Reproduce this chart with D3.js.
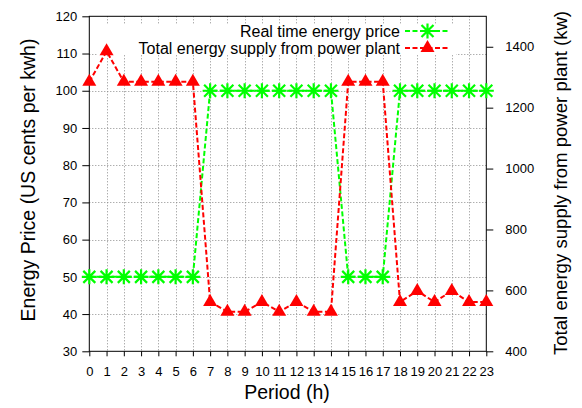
<!DOCTYPE html>
<html>
<head>
<meta charset="utf-8">
<script src="https://cdnjs.cloudflare.com/ajax/libs/d3/7.8.5/d3.min.js"></script>
<style>
  body { margin: 0; background: #fff; }
  svg { display: block; font-family: "Liberation Sans", Arial, sans-serif; }
</style>
</head>
<body>
<div id="chart"></div>
<script>
// chart data
const periods = [0, 1, 2, 3, 4, 5, 6, 7, 8, 9, 10, 11, 12, 13, 14, 15, 16, 17, 18, 19, 20, 21, 22, 23];
const price = [50, 50, 50, 50, 50, 50, 50, 100, 100, 100, 100, 100, 100, 100, 100, 50, 50, 50, 100, 100, 100, 100, 100, 100];
const supply = [1285, 1385, 1285, 1285, 1285, 1285, 1285, 562, 530, 530, 562, 530, 562, 530, 530, 1285, 1285, 1285, 562, 598, 562, 598, 562, 562];
const priceTicks = [30, 40, 50, 60, 70, 80, 90, 100, 110, 120];
const supplyTicks = [400, 600, 800, 1000, 1200, 1400];
const seriesNames = ['Real time energy price', 'Total energy supply from power plant'];

const width = 582, height = 408;
const m = {left: 89.3, right: 486.3, top: 16.3, bottom: 351.3};

const svg = d3.select('#chart').append('svg')
    .attr('width', width)
    .attr('height', height);

const x = d3.scaleLinear().domain([0, 23]).range([m.left, m.right]);
const yL = d3.scaleLinear().domain([30, 120]).range([m.bottom, m.top]);
const yR = d3.scaleLinear().domain([400, 1500]).range([m.bottom, m.top]);

const GREEN = '#00ff00', RED = '#ff0000';

// grid
const grid = svg.append('g')
    .attr('stroke', '#8c8c8c')
    .attr('stroke-width', 1)
    .attr('stroke-dasharray', '1,2');
grid.selectAll('line.v').data(periods.slice(1, -1)).enter().append('line')
    .attr('x1', d => Math.round(x(d)) + 0.5).attr('x2', d => Math.round(x(d)) + 0.5)
    .attr('y1', m.top).attr('y2', m.bottom);
grid.selectAll('line.h').data(priceTicks.slice(1, -1)).enter().append('line')
    .attr('x1', m.left).attr('x2', m.right)
    .attr('y1', d => Math.round(yL(d)) + 0.5).attr('y2', d => Math.round(yL(d)) + 0.5);

// opaque key box
svg.append('rect')
    .attr('x', 97).attr('y', 24)
    .attr('width', 359).attr('height', 31)
    .attr('fill', '#fff');

// axes
const axisFont = g => g.selectAll('text')
    .attr('font-size', '13px')
    .attr('font-family', '"Liberation Sans", Arial, sans-serif')
    .attr('fill', '#000');

svg.append('g')
    .attr('transform', `translate(0,${m.bottom})`)
    .call(d3.axisBottom(x).tickValues(periods).tickSize(5).tickPadding(10))
    .call(g => g.select('.domain').remove())
    .call(axisFont);

svg.append('g')
    .attr('transform', `translate(${m.left},0)`)
    .call(d3.axisLeft(yL).tickValues(priceTicks).tickSize(7).tickPadding(5))
    .call(g => g.select('.domain').remove())
    .call(axisFont);

svg.append('g')
    .attr('transform', `translate(${m.right},0)`)
    .call(d3.axisRight(yR).tickValues(supplyTicks).tickFormat(d3.format('d')).tickSize(7).tickPadding(12))
    .call(g => g.select('.domain').remove())
    .call(axisFont);

// border
svg.append('rect')
    .attr('x', m.left).attr('y', m.top)
    .attr('width', m.right - m.left).attr('height', m.bottom - m.top)
    .attr('fill', 'none').attr('stroke', '#000').attr('stroke-width', 1);

// markers
function star(sel, cx, cy) {
    const s = 7.5, d = 6;
    sel.append('path')
        .attr('d', `M${cx - s},${cy}H${cx + s}M${cx},${cy - s}V${cy + s}` +
            `M${cx - d},${cy - d}L${cx + d},${cy + d}M${cx - d},${cy + d}L${cx + d},${cy - d}`)
        .attr('stroke', GREEN).attr('stroke-width', 2.2).attr('fill', 'none');
}
function tri(sel, cx, cy) {
    sel.append('path')
        .attr('d', `M${cx},${cy - 8}L${cx - 7},${cy + 4}L${cx + 7},${cy + 4}Z`)
        .attr('fill', RED);
}

// price series
svg.append('path')
    .datum(periods)
    .attr('fill', 'none')
    .attr('stroke', GREEN).attr('stroke-width', 2)
    .attr('stroke-dasharray', '5,2.5')
    .attr('d', d3.line().x(d => x(d)).y((d, i) => yL(price[i])));
const gP = svg.append('g');
periods.forEach((p, i) => star(gP, x(p), yL(price[i])));

// supply series
svg.append('path')
    .datum(periods)
    .attr('fill', 'none')
    .attr('stroke', RED).attr('stroke-width', 2)
    .attr('stroke-dasharray', '5,2.5')
    .attr('d', d3.line().x(d => x(d)).y((d, i) => yR(supply[i])));
const gS = svg.append('g');
periods.forEach((p, i) => tri(gS, x(p), yR(supply[i])));

// legend
const leg = svg.append('g');
seriesNames.forEach((name, i) => {
    const cy = 31 + i * 17;
    leg.append('text')
        .attr('x', 400).attr('y', cy + 6)
        .attr('text-anchor', 'end')
        .attr('font-size', '16px')
        .text(name);
    leg.append('line')
        .attr('x1', 405).attr('x2', 450)
        .attr('y1', cy).attr('y2', cy)
        .attr('stroke', i === 0 ? GREEN : RED).attr('stroke-width', 2)
        .attr('stroke-dasharray', '5,2.5');
    if (i === 0) star(leg, 427.5, cy); else tri(leg, 427.5, cy);
});

// axis titles
svg.append('text')
    .attr('x', 287).attr('y', 399)
    .attr('text-anchor', 'middle')
    .attr('font-size', '19.5px')
    .text('Period (h)');

svg.append('text')
    .attr('transform', 'translate(35,180) rotate(-90)')
    .attr('text-anchor', 'middle')
    .attr('font-size', '19.5px')
    .text('Energy Price (US cents per kwh)');

svg.append('text')
    .attr('transform', 'translate(567,183) rotate(-90)')
    .attr('text-anchor', 'middle')
    .attr('font-size', '18.6px')
    .text('Total energy supply from power plant (kw)');
</script>
</body>
</html>
